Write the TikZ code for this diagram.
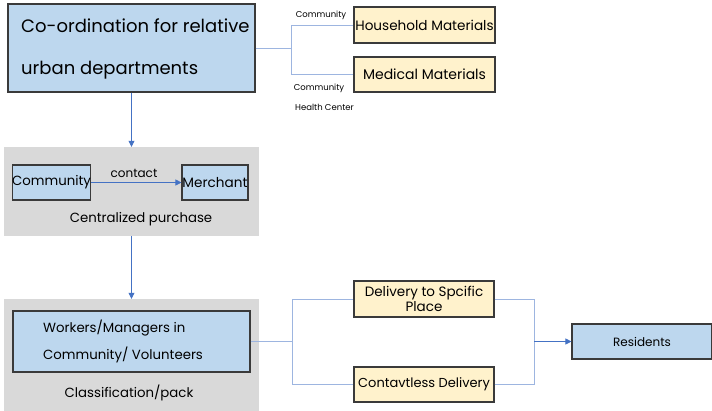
\documentclass[tikz,border=0pt]{standalone}
\usepackage{fontspec}
\setmainfont{Poppins}
\usetikzlibrary{arrows.meta}
\definecolor{boxblue}{HTML}{BDD7EE}
\definecolor{boxyellow}{HTML}{FFF2CC}
\definecolor{panelgray}{HTML}{D9D9D9}
\definecolor{boxline}{HTML}{3A3A3A}
\definecolor{linkblue}{HTML}{9DB5E0}
\definecolor{arrowblue}{HTML}{4472C4}
\newcommand{\fs}[2]{\fontsize{#1}{#2}\selectfont}
\begin{document}
\begin{tikzpicture}[x=1pt,y=-1pt,
  bluebox/.style={draw=boxline, fill=boxblue, line width=1.1pt, rectangle, inner sep=0pt},
  yellowbox/.style={draw=boxline, fill=boxyellow, line width=1.1pt, rectangle, inner sep=0pt, align=center},
  panel/.style={fill=panelgray, rectangle, inner sep=0pt},
  txt/.style={inner sep=0pt, text=black},
  link/.style={draw=linkblue, line width=0.7pt},
  arrowlink/.style={draw=arrowblue, line width=0.7pt, -{Triangle[length=6pt,width=6pt]}}]
\useasboundingbox (0,0) rectangle (712,410);
\fill[white] (0,0) rectangle (712,410);

% top coordination block and its two material branches
\node[bluebox, minimum width=247pt, minimum height=88pt] (coord) at (131.5,48) {};
\node[txt, anchor=west, align=left, font=\fs{18}{42}] (coordtxt) at (21,49) {Co-ordination for relative\\urban departments};
\node[yellowbox, minimum width=141pt, minimum height=36pt, font=\fs{13.6}{16}] (house) at (424.5,25) {Household Materials};
\node[yellowbox, minimum width=141pt, minimum height=35pt, font=\fs{14}{16}] (medical) at (424.5,74.5) {Medical Materials};
\coordinate (fork1) at (291,48);
\draw[link] (coord.east) -- (fork1);
\draw[link] (fork1) |- (house.west);
\draw[link] (fork1) |- (medical.west);
\node[txt, font=\fs{8.5}{10}] (lblcomm) at (321,15) {Community};
\node[txt, font=\fs{8.5}{10}] (lblcomm2) at (319,88) {Community};
\node[txt, font=\fs{8.5}{10}] (lblhealth) at (324.5,107) {Health Center};

% centralized purchase panel
\node[panel, minimum width=255pt, minimum height=89pt] (panel1) at (131.5,191.5) {};
\draw[arrowlink] (coord.south) -- (panel1.north);
\node[bluebox, minimum width=77pt, minimum height=35pt, font=\fs{13.3}{16}] (community) at (51.5,182.5) {Community};
\node[bluebox, minimum width=66pt, minimum height=35pt, font=\fs{13.6}{16}] (merchant) at (215,182.5) {Merchant};
\draw[arrowlink] (community.east) -- (merchant.west);
\node[txt, font=\fs{12}{14}] (contact) at (134,173) {contact};
\node[txt, font=\fs{13.3}{16}] (central) at (141,219) {Centralized purchase};

% classification / pack panel
\node[panel, minimum width=255pt, minimum height=113pt] (panel2) at (131.5,355.5) {};
\draw[arrowlink] (panel1.south) -- (panel2.north);
\node[bluebox, minimum width=237pt, minimum height=61pt] (workers) at (131.5,341.5) {};
\node[txt, anchor=west, align=left, font=\fs{13.3}{27}] (workerstxt) at (43,341) {Workers/Managers in\\Community/ Volunteers};
\node[txt, font=\fs{13.3}{16}] (classif) at (129,393) {Classification/pack};

% delivery branches to residents
\node[yellowbox, minimum width=140pt, minimum height=36pt, font=\fs{13.5}{12}] (deliv) at (424,299) {Delivery to Spcific\\Place};
\node[yellowbox, minimum width=140pt, minimum height=35pt, font=\fs{13}{15}] (contactless) at (424,384.5) {Contavtless Delivery};
\node[bluebox, minimum width=140pt, minimum height=35pt, font=\fs{12}{15}] (residents) at (642,341.5) {Residents};
\coordinate (fork2) at (292,341.5);
\coordinate (fork3) at (534,341.5);
\draw[link] (workers.east) -- (fork2);
\draw[link] (fork2) |- (deliv.west);
\draw[link] (fork2) |- (contactless.west);
\draw[link] (deliv.east) -| (fork3);
\draw[link] (contactless.east) -| (fork3);
\draw[arrowlink] (fork3) -- (residents.west);
\end{tikzpicture}
\end{document}
